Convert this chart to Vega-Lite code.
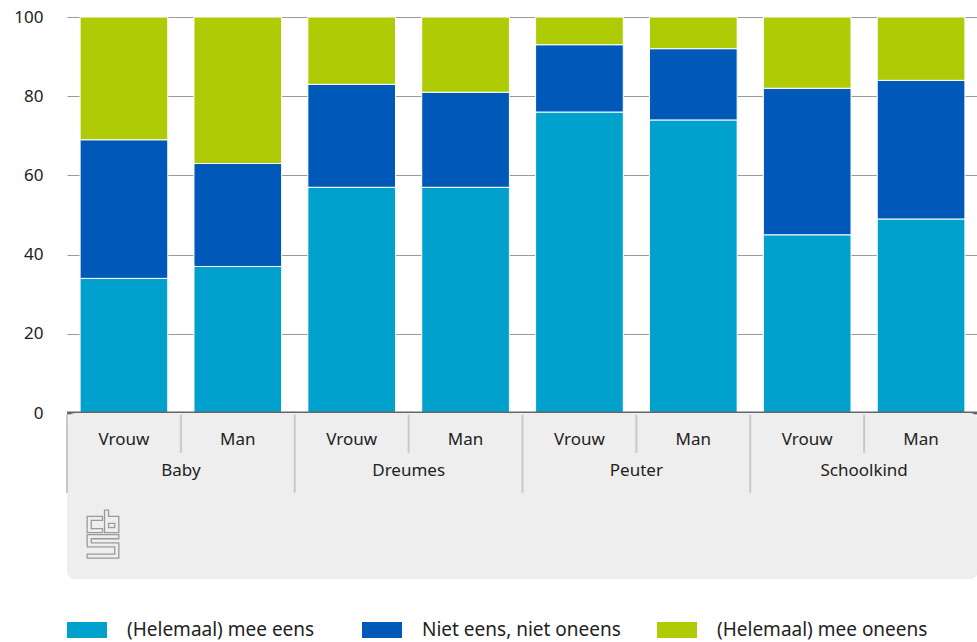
{
  "$schema": "https://vega.github.io/schema/vega-lite/v6.json",
  "padding": {"left": 13, "top": 8, "right": 0, "bottom": 0},
  "background": "white",
  "bounds": "flush",
  "config": {
    "font": "Noto Sans",
    "view": {"stroke": null},
    "concat": {"spacing": 0}
  },
  "datasets": {
    "values": [
      {"bar": "Baby Vrouw", "cat": "(Helemaal) mee eens", "rank": 1, "value": 34},
      {"bar": "Baby Vrouw", "cat": "Niet eens, niet oneens", "rank": 2, "value": 35},
      {"bar": "Baby Vrouw", "cat": "(Helemaal) mee oneens", "rank": 3, "value": 31},
      {"bar": "Baby Man", "cat": "(Helemaal) mee eens", "rank": 1, "value": 37},
      {"bar": "Baby Man", "cat": "Niet eens, niet oneens", "rank": 2, "value": 26},
      {"bar": "Baby Man", "cat": "(Helemaal) mee oneens", "rank": 3, "value": 37},
      {"bar": "Dreumes Vrouw", "cat": "(Helemaal) mee eens", "rank": 1, "value": 57},
      {"bar": "Dreumes Vrouw", "cat": "Niet eens, niet oneens", "rank": 2, "value": 26},
      {"bar": "Dreumes Vrouw", "cat": "(Helemaal) mee oneens", "rank": 3, "value": 17},
      {"bar": "Dreumes Man", "cat": "(Helemaal) mee eens", "rank": 1, "value": 57},
      {"bar": "Dreumes Man", "cat": "Niet eens, niet oneens", "rank": 2, "value": 24},
      {"bar": "Dreumes Man", "cat": "(Helemaal) mee oneens", "rank": 3, "value": 19},
      {"bar": "Peuter Vrouw", "cat": "(Helemaal) mee eens", "rank": 1, "value": 76},
      {"bar": "Peuter Vrouw", "cat": "Niet eens, niet oneens", "rank": 2, "value": 17},
      {"bar": "Peuter Vrouw", "cat": "(Helemaal) mee oneens", "rank": 3, "value": 7},
      {"bar": "Peuter Man", "cat": "(Helemaal) mee eens", "rank": 1, "value": 74},
      {"bar": "Peuter Man", "cat": "Niet eens, niet oneens", "rank": 2, "value": 18},
      {"bar": "Peuter Man", "cat": "(Helemaal) mee oneens", "rank": 3, "value": 8},
      {"bar": "Schoolkind Vrouw", "cat": "(Helemaal) mee eens", "rank": 1, "value": 45},
      {"bar": "Schoolkind Vrouw", "cat": "Niet eens, niet oneens", "rank": 2, "value": 37},
      {"bar": "Schoolkind Vrouw", "cat": "(Helemaal) mee oneens", "rank": 3, "value": 18},
      {"bar": "Schoolkind Man", "cat": "(Helemaal) mee eens", "rank": 1, "value": 49},
      {"bar": "Schoolkind Man", "cat": "Niet eens, niet oneens", "rank": 2, "value": 35},
      {"bar": "Schoolkind Man", "cat": "(Helemaal) mee oneens", "rank": 3, "value": 16}
    ],
    "bars": [
      {"bar": "Baby Vrouw", "group": "Baby", "sex": "Vrouw"},
      {"bar": "Baby Man", "group": "Baby", "sex": "Man"},
      {"bar": "Dreumes Vrouw", "group": "Dreumes", "sex": "Vrouw"},
      {"bar": "Dreumes Man", "group": "Dreumes", "sex": "Man"},
      {"bar": "Peuter Vrouw", "group": "Peuter", "sex": "Vrouw"},
      {"bar": "Peuter Man", "group": "Peuter", "sex": "Man"},
      {"bar": "Schoolkind Vrouw", "group": "Schoolkind", "sex": "Vrouw"},
      {"bar": "Schoolkind Man", "group": "Schoolkind", "sex": "Man"}
    ],
    "groups": [
      {"group": "Baby"},
      {"group": "Dreumes"},
      {"group": "Peuter"},
      {"group": "Schoolkind"}
    ]
  },
  "vconcat": [
    {
      "width": 911,
      "height": 396,
      "layer": [
        {
          "data": {"name": "values"},
          "mark": {"type": "bar", "stroke": "white", "strokeWidth": 1},
          "encoding": {
            "x": {
              "field": "bar", "type": "nominal", "sort": null, "axis": null,
              "scale": {"paddingInner": 0.23, "paddingOuter": 0.115}
            },
            "y": {
              "field": "value", "type": "quantitative", "stack": "zero",
              "scale": {"domain": [0, 100], "nice": false},
              "axis": {
                "values": [0, 20, 40, 60, 80, 100], "title": null, "ticks": false,
                "domain": false, "grid": true, "gridColor": "#9a9a9a", "gridWidth": 1,
                "labelPadding": 24, "labelFontSize": 17, "labelColor": "#222222"
              }
            },
            "color": {
              "field": "cat", "type": "nominal",
              "scale": {
                "domain": ["(Helemaal) mee eens", "Niet eens, niet oneens", "(Helemaal) mee oneens"],
                "range": ["#00a1cd", "#0058b8", "#afcb05"]
              },
              "legend": {
                "orient": "bottom", "direction": "horizontal", "title": null,
                "columns": 3, "gridAlign": "all", "columnPadding": 24,
                "symbolType": "M-1,-0.4H1V0.4H-1Z", "symbolSize": 1600,
                "symbolStrokeWidth": 0, "symbolOpacity": 1,
                "labelFontSize": 19, "labelOffset": 20, "labelColor": "#222222",
                "labelLimit": 400,
                "offset": 31
              }
            },
            "order": {"field": "rank", "type": "quantitative"}
          }
        },
        {
          "data": {"values": [{"line": "axis"}]},
          "mark": {"type": "rule", "color": "#666666", "strokeWidth": 3},
          "encoding": {"y": {"datum": 0, "type": "quantitative"}}
        }
      ]
    },
    {
      "width": 911,
      "height": 166,
      "view": {"fill": "#eeeeee", "cornerRadius": 8},
      "layer": [
        {
          "data": {"name": "bars"},
          "mark": {"type": "text", "fontSize": 17, "color": "#222222"},
          "encoding": {
            "x": {
              "field": "bar", "type": "nominal", "sort": null, "axis": null,
              "scale": {"paddingInner": 0.23, "paddingOuter": 0.115}
            },
            "y": {"datum": 16, "type": "quantitative", "scale": {"domain": [0, 100], "reverse": true, "nice": false}, "axis": null},
            "text": {"field": "sex"}
          }
        },
        {
          "data": {"name": "groups"},
          "layer": [
            {
              "mark": {"type": "text", "fontSize": 17, "color": "#222222"},
              "encoding": {
                "x": {"field": "group", "type": "nominal", "axis": null,
                  "scale": {"domain": ["Baby", "Dreumes", "Peuter", "Schoolkind"], "paddingInner": 0, "paddingOuter": 0}},
                "y": {"datum": 35, "type": "quantitative", "axis": null},
                "text": {"field": "group"}
              }
            },
            {
              "mark": {"type": "rule", "color": "#c8c8c8", "strokeWidth": 2},
              "encoding": {
                "x": {"field": "group", "type": "nominal", "axis": null, "bandPosition": 0.5,
                  "scale": {"domain": ["Baby", "Dreumes", "Peuter", "Schoolkind"], "paddingInner": 0, "paddingOuter": 0}},
                "y": {"datum": 1, "type": "quantitative", "axis": null},
                "y2": {"datum": 24}
              }
            },
            {
              "mark": {"type": "rule", "color": "#c8c8c8", "strokeWidth": 2},
              "encoding": {
                "x": {"field": "group", "type": "nominal", "axis": null, "bandPosition": 0,
                  "scale": {"domain": ["Baby", "Dreumes", "Peuter", "Schoolkind"], "paddingInner": 0, "paddingOuter": 0}},
                "y": {"datum": 1, "type": "quantitative", "axis": null},
                "y2": {"datum": 48}
              }
            },
            {
              "transform": [{"filter": "datum.group === 'Baby'"}],
              "mark": {
                "type": "point", "filled": false, "stroke": "#9a9a9a", "strokeWidth": 1.3, "opacity": 1,
                "shape": "M-0.02,-0.745H-0.66V-0.064H-0.02V-0.234H-0.49V-0.574H-0.02Z M0.064,-1H0.234V-0.745H0.66V-0.064H0.064Z M0.234,-0.447H0.489V-0.277H0.234Z M0.66,0.021H-0.66V0.532H0.489V0.83H-0.66V1H0.66V0.362H-0.489V0.191H0.66Z",
                "size": 2304
              },
              "encoding": {
                "x": {"field": "group", "type": "nominal", "axis": null, "bandPosition": 0.158,
                  "scale": {"domain": ["Baby", "Dreumes", "Peuter", "Schoolkind"], "paddingInner": 0, "paddingOuter": 0}},
                "y": {"datum": 73, "type": "quantitative", "axis": null}
              }
            }
          ]
        }
      ],
      "resolve": {"scale": {"x": "independent"}}
    }
  ]
}
